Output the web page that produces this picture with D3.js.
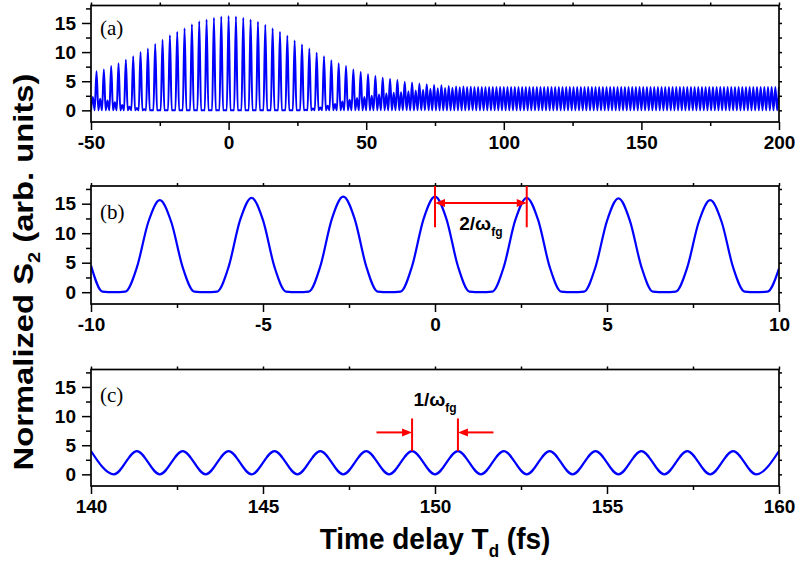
<!DOCTYPE html>
<html>
<head>
<meta charset="utf-8">
<title>Normalized S2 vs time delay</title>
<script src="https://cdn.jsdelivr.net/npm/d3@7/dist/d3.min.js"></script>
<style>
  body { margin: 0; background: #fff; }
  svg { display: block; }
  text { font-family: "Liberation Sans", Arial, Helvetica, sans-serif; }
</style>
</head>
<body>
<svg id="chart" width="801" height="562"></svg>
<script>
// ---- values ----

// (a) one cycle every 8/3 fs; main peaks at t = -48, -45.33, ..., 200
const aMainPeaks = [
  6.7, 7.0, 7.6, 8.1, 8.7, 9.3, 10.0, 10.6, 11.4, 12.1, 12.9, 13.5, 14.1, 14.8, 15.3, 15.6, 15.9, 16.1,
  16.2,
  16.1, 15.9, 15.6, 15.2, 14.7, 14.1, 13.5, 12.8, 12.0, 11.3, 10.6, 9.9, 9.3, 8.6, 8.1, 7.6, 7.0,
  6.6, 6.2, 5.9, 5.6, 5.4, 5.2, 4.9, 4.8, 4.6, 4.5, 4.35, 4.3, 4.2, 4.1, 4.1, 4.05, 4.0,
  4.0, 4.0, 4.0, 4.0, 4.0, 4.0, 4.0, 4.0, 4.0, 4.0, 4.0, 4.0, 4.0, 4.0, 4.0, 4.0, 4.0, 4.0, 4.0, 4.0, 4.0,
  4.0, 4.0, 4.0, 4.0, 4.0, 4.0, 4.0, 4.0, 4.0, 4.0, 4.0, 4.0, 4.0, 4.0, 4.0, 4.0, 4.0, 4.0, 4.0, 4.0
];
// smaller peaks half way between, at t = -49.33, -46.67, ..., 198.67
const aSidePeaks = [
  2.3, 2.0, 1.7, 1.4, 0.9, 0.6, 0.4, 0.2,
  0, 0, 0, 0, 0, 0, 0, 0, 0, 0, 0, 0, 0, 0, 0, 0, 0, 0, 0, 0, 0,
  0.1, 0.3, 0.5, 0.8, 1.1, 1.5, 1.8, 2.1, 2.3, 2.5, 2.7, 2.9, 3.0, 3.1, 3.3, 3.4, 3.55, 3.7, 3.8, 3.85, 3.9, 3.95,
  4.0, 4.0, 4.0, 4.0, 4.0, 4.0, 4.0, 4.0, 4.0, 4.0, 4.0, 4.0, 4.0, 4.0, 4.0, 4.0, 4.0, 4.0, 4.0, 4.0, 4.0,
  4.0, 4.0, 4.0, 4.0, 4.0, 4.0, 4.0, 4.0, 4.0, 4.0, 4.0, 4.0, 4.0, 4.0, 4.0, 4.0, 4.0, 4.0, 4.0, 4.0, 4.0, 4.0
];
const aPeriod = 8 / 3;

// (b) samples every 1/3 fs from -10 to 10
const bValues = [
  4.5, 0.1, 0, 0.1, 4.2, 11.9, 15.6, 11.9, 4.2, 0.1,
  0, 0.1, 4.3, 12.2, 16.0, 12.2, 4.3, 0.1, 0, 0.1,
  4.4, 12.4, 16.2, 12.4, 4.4, 0.1, 0, 0.1, 4.4, 12.4,
  16.2, 12.4, 4.4, 0.1, 0, 0.1, 4.3, 12.2, 16.0, 12.2,
  4.3, 0.1, 0, 0.1, 4.3, 12.1, 15.9, 12.1, 4.3, 0.1,
  0, 0.1, 4.2, 11.9, 15.6, 11.9, 4.2, 0.1, 0, 0.1,
  4.0
];
const bStart = -10, bStep = 1 / 3;

// (c) peaks and troughs every 2/3 fs from 140 to 160
const cValues = [
  4.0, 0, 4.0, 0, 4.0, 0, 4.0, 0, 4.0, 0, 4.0, 0, 4.0, 0, 4.0, 0,
  4.0, 0, 4.0, 0, 4.0, 0, 4.0, 0, 4.0, 0, 4.0, 0, 4.0, 0, 4.0
];
const cStart = 140, cStep = 2 / 3;

// tick values
const aMajor = [-50, 0, 50, 100, 150, 200], aMinor = [-25, 25, 75, 125, 175];
const bMajor = [-10, -5, 0, 5, 10], bMinor = [-7.5, -2.5, 2.5, 7.5];
const cMajor = [140, 145, 150, 155, 160], cMinor = [142.5, 147.5, 152.5, 157.5];
const yMajor = [0, 5, 10, 15], yMinor = [2.5, 7.5, 12.5, 17.5];

// ---- build the series ----
const aSeries = [];
aMainPeaks.forEach((v, i) => {
  const t0 = -50 + i * aPeriod;
  aSeries.push([t0, 0], [t0 + aPeriod / 4, aSidePeaks[i]], [t0 + aPeriod / 2, 0], [t0 + 3 * aPeriod / 4, v]);
});
const bSeries = bValues.map((v, i) => [bStart + i * bStep, v]);
const cSeries = cValues.map((v, i) => [cStart + i * cStep, v]);

// ---- layout ----
const svg = d3.select("#chart");
const left = 91, right = 779;
const blue = "#0000ff", red = "#ff0000";
const plain = d => String(d); // keep the short hyphen minus of the original

const panels = [
  {name: "(a)", top: 5.5, bottom: 122, domain: [-50, 200], major: aMajor, minor: aMinor, data: aSeries, lw: 2.0, tagY: 35},
  {name: "(b)", top: 186, bottom: 304, domain: [-10, 10], major: bMajor, minor: bMinor, data: bSeries, lw: 2.2, tagY: 219},
  {name: "(c)", top: 369.5, bottom: 486, domain: [140, 160], major: cMajor, minor: cMinor, data: cSeries, lw: 2.2, tagY: 401.5}
];

panels.forEach((p, idx) => {
  const x = d3.scaleLinear().domain(p.domain).range([left, right]);
  const y = d3.scaleLinear().domain([-2, 18]).range([p.bottom, p.top]);
  p.x = x; p.y = y;
  const g = svg.append("g");

  g.append("clipPath").attr("id", "clip" + idx)
    .append("rect")
    .attr("x", left).attr("y", p.top)
    .attr("width", right - left).attr("height", p.bottom - p.top);

  const line = d3.line()
    .x(d => x(d[0]))
    .y(d => y(d[1]))
    .curve(d3.curveMonotoneX);

  g.append("path")
    .datum(p.data)
    .attr("clip-path", `url(#clip${idx})`)
    .attr("fill", "none")
    .attr("stroke", blue)
    .attr("stroke-width", p.lw)
    .attr("stroke-linejoin", "round")
    .attr("d", line);

  // bottom axis, labelled
  const bx = g.append("g").attr("transform", `translate(0,${p.bottom})`);
  bx.append("g").call(d3.axisBottom(x).tickValues(p.major).tickFormat(plain).tickSize(8).tickSizeOuter(0).tickPadding(6));
  bx.append("g").call(d3.axisBottom(x).tickValues(p.minor).tickSize(4).tickSizeOuter(0).tickFormat(""));
  // left axis, labelled
  const ly = g.append("g").attr("transform", `translate(${left},0)`);
  ly.append("g").call(d3.axisLeft(y).tickValues(yMajor).tickFormat(plain).tickSize(9).tickSizeOuter(0).tickPadding(6));
  ly.append("g").call(d3.axisLeft(y).tickValues(yMinor).tickSize(5).tickSizeOuter(0).tickFormat(""));
  // top and right, small ticks only
  const tx = g.append("g").attr("transform", `translate(0,${p.top})`);
  tx.append("g").call(d3.axisTop(x).tickValues(p.major.concat(p.minor)).tickSize(3).tickSizeOuter(0).tickFormat(""));
  const ry = g.append("g").attr("transform", `translate(${right},0)`);
  ry.append("g").call(d3.axisRight(y).tickValues(yMajor.concat(yMinor)).tickSize(3).tickSizeOuter(0).tickFormat(""));

  g.selectAll(".domain").remove();
  g.selectAll(".tick line").attr("stroke", "#000").attr("stroke-width", 1.5);
  g.selectAll(".tick text")
    .attr("fill", "#000")
    .style("font-size", "19px")
    .style("font-weight", "bold");

  // frame
  g.append("rect")
    .attr("x", left).attr("y", p.top)
    .attr("width", right - left).attr("height", p.bottom - p.top)
    .attr("fill", "none")
    .attr("stroke", "#000")
    .attr("stroke-width", 1.7);

  // panel tag
  g.append("text")
    .attr("x", 100).attr("y", p.tagY)
    .style("font-family", '"Liberation Serif", "Times New Roman", serif')
    .style("font-size", "21px")
    .text(p.name);
});

// ---- red markers ----
function arrowHead(g, tipX, tipY, dir) {
  const len = 10, half = 4;
  g.append("path")
    .attr("d", `M${tipX},${tipY}L${tipX - dir * len},${tipY - half}L${tipX - dir * len},${tipY + half}Z`)
    .attr("fill", red);
}

// (b) 2/w_fg between the peaks at 0 and 8/3
{
  const p = panels[1], x = p.x, y = p.y;
  const g = svg.append("g");
  const marks = [0, 8 / 3];
  marks.forEach(t => {
    g.append("line")
      .attr("x1", x(t)).attr("x2", x(t))
      .attr("y1", y(18)).attr("y2", y(11))
      .attr("stroke", red).attr("stroke-width", 2);
  });
  const ay = y(15.1);
  g.append("line")
    .attr("x1", x(marks[0]) + 6).attr("x2", x(marks[1]) - 6)
    .attr("y1", ay).attr("y2", ay)
    .attr("stroke", red).attr("stroke-width", 2);
  arrowHead(g, x(marks[0]), ay, -1);
  arrowHead(g, x(marks[1]), ay, 1);
  const t = g.append("text")
    .attr("x", x(4 / 3)).attr("y", y(10.55))
    .attr("text-anchor", "middle")
    .style("font-weight", "bold")
    .style("font-size", "19px");
  t.append("tspan").text("2/ω");
  t.append("tspan").attr("dy", 6).style("font-size", "12px").text("fg");
}

// (c) 1/w_fg between the peaks at 149.33 and 150.67
{
  const p = panels[2], x = p.x, y = p.y;
  const g = svg.append("g");
  const marks = [448 / 3, 452 / 3];
  marks.forEach(t => {
    g.append("line")
      .attr("x1", x(t)).attr("x2", x(t))
      .attr("y1", y(4)).attr("y2", y(9.6))
      .attr("stroke", red).attr("stroke-width", 2);
  });
  const ay = y(7.2);
  g.append("line")
    .attr("x1", x(148.3)).attr("x2", x(marks[0]) - 6)
    .attr("y1", ay).attr("y2", ay)
    .attr("stroke", red).attr("stroke-width", 2);
  g.append("line")
    .attr("x1", x(151.7)).attr("x2", x(marks[1]) + 6)
    .attr("y1", ay).attr("y2", ay)
    .attr("stroke", red).attr("stroke-width", 2);
  arrowHead(g, x(marks[0]), ay, 1);
  arrowHead(g, x(marks[1]), ay, -1);
  const t = g.append("text")
    .attr("x", x(150)).attr("y", y(11.65))
    .attr("text-anchor", "middle")
    .style("font-weight", "bold")
    .style("font-size", "19px");
  t.append("tspan").text("1/ω");
  t.append("tspan").attr("dy", 6).style("font-size", "12px").text("fg");
}

// ---- axis titles ----
// the original figure is a little stretched vertically, so the titles are too
const yt = svg.append("text")
  .attr("transform", "translate(33,272) rotate(-90) scale(1.17,1)")
  .attr("text-anchor", "middle")
  .style("font-weight", "bold")
  .style("font-size", "28px");
yt.append("tspan").text("Normalized S");
yt.append("tspan").attr("dy", 7).style("font-size", "17px").text("2");
yt.append("tspan").attr("dy", -7).text(" (arb. units)");

const xt = svg.append("text")
  .attr("transform", `translate(${(left + right) / 2},549) scale(1,1.08)`)
  .attr("text-anchor", "middle")
  .style("font-weight", "bold")
  .style("font-size", "28px");
xt.append("tspan").text("Time delay T");
xt.append("tspan").attr("dy", 7).style("font-size", "17px").text("d");
xt.append("tspan").attr("dy", -7).text(" (fs)");
</script>
</body>
</html>
